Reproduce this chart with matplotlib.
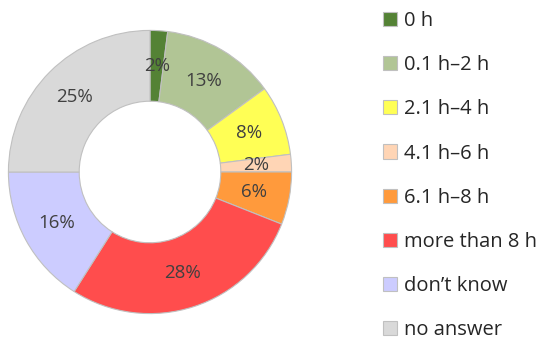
import matplotlib.pyplot as plt

categories = ['0 h', '0.1 h\u20132 h', '2.1 h\u20134 h', '4.1 h\u20136 h',
              '6.1 h\u20138 h', 'more than 8 h', 'don\u2019t know', 'no answer']
shares = [2, 13, 8, 2, 6, 28, 16, 25]
colors = ['#548235', '#b1c595', '#ffff55', '#ffd5b5',
          '#ff9a3c', '#ff4d4d', '#ccccff', '#d9d9d9']

plt.rcParams['font.family'] = ['Open Sans', 'DejaVu Sans']

fig = plt.figure(figsize=(5.5, 3.43), dpi=100)
ax = fig.add_axes([7 / 550, 28 / 343, 286 / 550, 286 / 343])

wedges, texts, autotexts = ax.pie(
    shares, colors=colors, startangle=90, counterclock=False,
    radius=1.0, autopct='%d%%', pctdistance=0.75,
    wedgeprops=dict(width=0.5, edgecolor='#c0c0c0', linewidth=0.8),
    textprops=dict(color='#404040', fontsize=13.5))
ax.set_xlim(-1.01, 1.01)
ax.set_ylim(-1.01, 1.01)
ax.set_aspect('equal')

fig.legend(wedges, categories, loc='upper left',
           bbox_to_anchor=(373 / 550, 1 - 1 / 343), frameon=False,
           fontsize=14.5, handlelength=0.7, handleheight=0.7,
           handletextpad=0.35, labelspacing=1.2, borderpad=0,
           labelcolor='#262626')

fig.savefig('out.png', dpi=100)
